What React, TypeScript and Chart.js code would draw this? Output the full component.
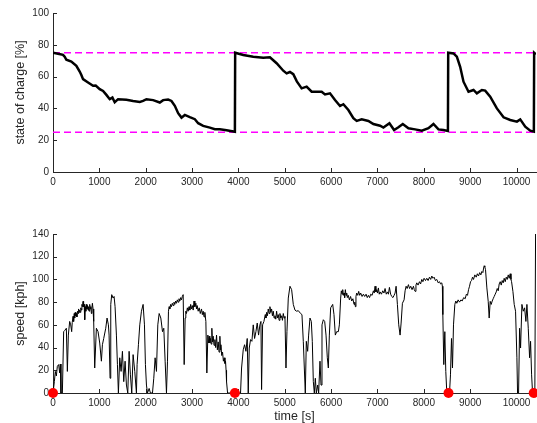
import { useEffect, useRef } from 'react';
import { Chart, registerables } from 'chart.js';

Chart.register(...registerables);

// ---------- data: state of charge ----------
const socTime = [0, 108, 216, 252, 288, 396, 504, 576, 612, 648, 756, 864, 922, 1008, 1080, 1152, 1224, 1282, 1332, 1404, 1584, 1728, 1872, 1944, 2016, 2160, 2304, 2376, 2484, 2556, 2628, 2700, 2772, 2844, 2952, 3060, 3132, 3240, 3384, 3492, 3600, 3744, 3924,
  3930, 4104, 4320, 4536, 4680, 4824, 4968, 5040, 5112, 5184, 5260, 5364, 5472, 5580, 5796, 5868, 5976, 6084, 6192, 6264, 6372, 6480, 6552, 6660, 6804, 6912, 7056, 7128, 7258, 7358, 7452, 7546, 7668, 7812, 7956, 8100, 8208, 8316, 8424, 8520,
  8526, 8640, 8712, 8784, 8856, 8964, 9072, 9144, 9252, 9324, 9432, 9576, 9720, 9864, 10008, 10080, 10188, 10296, 10374,
  10380, 10420];
const socValue = [75, 74.4, 73.7, 72.5, 70.6, 69.5, 66.8, 63.2, 61, 58.4, 56.3, 54.2, 54.4, 52.1, 51, 48.5, 45.8, 46.8, 43.9, 45.8, 45.4, 44.7, 44.1, 44.7, 45.8, 45.2, 43.7, 45.2, 45.6, 44.7, 41.6, 37, 34.2, 35.9, 34.5, 33.2, 30.7, 29, 27.9, 26.9, 26.9, 26.3, 25.3,
  75, 73.6, 72.5, 71.9, 72.1, 68.4, 63.7, 62, 62.9, 61.5, 57, 52.6, 53.7, 50.5, 50.5, 48.8, 49.5, 45.3, 41.5, 42.6, 39, 33.8, 32.1, 33.1, 32.1, 30.2, 29.1, 27.9, 30.6, 26.4, 28.1, 30.2, 27.5, 26.8, 26, 27.5, 30.2, 26.8, 26.4, 25.8,
  75, 74.6, 72.5, 66.2, 56.8, 50.5, 51.6, 49.5, 51.6, 51.2, 47.4, 40, 34.4, 32.7, 31.7, 33.1, 28.5, 26, 25.4,
  75, 74];
const socLimits = [25, 75];

// ---------- data: speed (split into segments) ----------
const speedTimeA = [0, 29, 50, 72, 94, 122, 144, 158, 172, 202, 230, 252, 288, 310, 331, 360, 382, 403, 415, 432, 445, 458, 468, 480, 492, 504, 516, 528, 540, 552, 564, 576, 588, 600, 612, 624, 636, 648, 660, 672, 684, 696, 708, 720, 732, 744, 756, 768, 780, 792, 804, 816, 828, 840, 850, 864, 878, 900, 936, 972];
const speedValueA = [0, 10, 19, 15, 23.5, 25, 17.6, 25.5, 0, 0, 54, 55, 57, 19, 51, 63, 60, 54, 62, 67.5, 63, 70, 66, 71, 68, 70, 67, 72, 70, 74, 71, 73, 71, 75, 73, 78, 76, 80.7, 76, 78, 64.5, 76, 72, 78, 74, 77, 73, 76, 72, 78, 74, 76, 70, 75, 79, 74, 63, 22, 57, 54];

const speedTimeB = [1008, 1044, 1066, 1094, 1138, 1166, 1195, 1210, 1231, 1246, 1267, 1296, 1318, 1339, 1368, 1390, 1411, 1440, 1469, 1498, 1526, 1555, 1584, 1613, 1642, 1670, 1699, 1728, 1764, 1800, 1814, 1843, 1872, 1908, 1944, 1973, 1994, 2016, 2038, 2074, 2102, 2146, 2174, 2203, 2232, 2261, 2290, 2326, 2362, 2390, 2419, 2448, 2470, 2491];
const speedValueB = [44, 28, 42.5, 48, 57, 66, 60, 51, 13, 78, 86.6, 83.6, 85, 76, 51, 25, 0, 31, 19, 36.7, 10, 28, 7, 0, 36.7, 16, 0, 33.8, 19, 0, 25, 42.5, 60, 72, 78, 60, 25, 7, 0, 4, 0, 0, 13, 31, 19, 60, 70, 66, 54, 57, 28, 0, 28, 72];

const speedTimeC = [2505, 2520, 2538, 2556, 2574, 2592, 2610, 2628, 2646, 2664, 2682, 2700, 2718, 2736, 2754, 2772, 2790, 2808, 2830, 2851, 2865, 2880, 2898, 2916, 2934, 2952, 2970, 2988, 3006, 3024, 3042, 3060, 3082, 3096, 3110, 3132, 3154, 3178, 3204, 3222, 3240, 3258, 3276, 3298, 3319, 3341, 3355, 3370, 3384, 3398, 3412, 3427, 3440, 3456, 3474, 3492, 3510, 3528, 3546, 3564, 3582, 3600, 3612, 3622, 3640, 3658, 3676, 3694, 3710, 3722, 3734, 3744, 3766];
const speedValueC = [76, 74, 78, 76, 79, 77, 80, 78, 81, 79, 82, 80, 83, 81, 84, 82, 85, 86.6, 25, 66, 72, 70, 75, 72, 76, 73, 78, 74, 77, 73, 81, 76, 79, 74, 77, 72, 75, 70, 74, 69, 72, 67, 71, 63, 17.6, 51, 44, 50, 44, 48, 43, 57, 45, 50, 42, 47, 40, 51, 38, 45, 36, 50, 38, 42.5, 33, 36, 28, 31, 26, 28, 20, 10, 0];

const speedTimeD = [4046, 4068, 4104, 4133, 4162, 4190, 4212, 4234, 4262, 4291, 4320, 4349, 4378, 4406, 4435, 4464, 4486, 4500, 4522, 4550, 4579, 4594, 4608, 4626, 4644, 4662, 4680, 4698, 4716, 4734, 4752, 4770, 4788, 4806, 4824, 4842, 4860, 4878, 4896, 4914, 4932, 4950, 4968, 4986, 5004, 5026, 5047, 5076, 5112, 5148, 5184];
const speedValueD = [0, 22, 38, 42.5, 36.7, 48, 0, 39.6, 47, 45.5, 60, 48, 54, 61.6, 51, 60, 63, 3, 60, 63, 69, 66, 71, 68, 74, 70, 76, 71, 74, 68, 72, 66, 68, 65, 72, 66, 69, 64, 70, 66, 68, 64, 70, 66, 67.5, 22, 54, 83.6, 94, 91, 78];

const speedTimeE = [5220, 5256, 5292, 5342, 5371, 5400, 5422, 5443, 5465, 5494, 5515, 5544, 5573, 5594, 5616, 5638, 5659, 5681, 5710, 5731, 5760, 5782, 5803, 5832, 5861, 5890, 5918, 5940, 5962, 5990, 6034, 6062, 6091, 6120, 6156, 6178];
const speedValueE = [73, 72, 72.5, 70, 69, 45.5, 22, 0, 45.5, 36.7, 51, 66, 63, 45.5, 10, 0, 13, 0, 7, 0, 28, 7, 60, 64.5, 63, 51, 31, 22, 51, 75, 78, 69, 51, 54, 54, 60];

const speedTimeF = [6206, 6220, 6235, 6250, 6264, 6278, 6292, 6307, 6322, 6336, 6350, 6370, 6394, 6420, 6444, 6470, 6494, 6510, 6523, 6536, 6552, 6574, 6595, 6616, 6638, 6668, 6696, 6724, 6754, 6780, 6804, 6830, 6854, 6884, 6912, 6930, 6948, 6966, 6984, 7000, 7020, 7038, 7056, 7085, 7114, 7140, 7164, 7190, 7214, 7236, 7258, 7284, 7308, 7334, 7358, 7380, 7402, 7430, 7459, 7488, 7510, 7538, 7574, 7596, 7618, 7640, 7668, 7692, 7718, 7746];
const speedValueF = [83.6, 90, 87, 91, 86, 88, 84, 91, 86, 88, 84, 86, 82, 85, 81, 83, 78, 80, 76, 85, 88, 86, 89.5, 86, 88, 85, 87, 85, 87, 84, 86, 84, 87, 86, 90, 88, 94, 89, 91, 88, 92.5, 87, 89, 87, 90, 88, 92, 87, 89, 87, 93, 87, 85, 84, 86, 88, 94, 78, 60, 51, 61.6, 79, 82, 90, 94, 92, 95.4, 92, 94, 91];

const speedTimeG = [7776, 7794, 7812, 7830, 7848, 7876, 7906, 7930, 7956, 7980, 8006, 8036, 8064, 8092, 8122, 8148, 8172, 8198, 8222, 8250, 8280, 8310, 8338, 8362, 8388, 8400, 8410, 8431, 8453, 8474, 8496, 8554];
const speedValueG = [94, 91, 89.5, 95, 97, 95, 98, 96, 100, 98, 101, 99, 101, 99, 102, 100, 103, 101, 102, 99, 100, 97, 98, 96, 97, 94, 69, 25, 54, 19, 0, 0];

const speedTimeH = [8575, 8597, 8618, 8640, 8669, 8690, 8712, 8740, 8770, 8800, 8827, 8860, 8892, 8918, 8942, 8965, 8986, 9008, 9029, 9050, 9072, 9100, 9130, 9155, 9180, 9205, 9230, 9252, 9274, 9290, 9302, 9316, 9331, 9360, 9389, 9410, 9432, 9454, 9475, 9496, 9518, 9540, 9562, 9584, 9605, 9626, 9648, 9670, 9691, 9712, 9734, 9756, 9778, 9800, 9821, 9842, 9864, 9880, 9893, 9922, 9950, 9979, 10008, 10022, 10044, 10066, 10087, 10116, 10145, 10174, 10202, 10224, 10253, 10282, 10303, 10325, 10346, 10395, 10411];
const speedValueH = [16, 48, 22, 60, 78, 81, 79, 82, 80, 82, 81, 84, 83, 87, 86, 91, 94, 98, 99, 102, 100, 104, 102, 105, 103, 106, 104, 107, 106, 110, 112, 111, 108.6, 92.5, 80.7, 66, 80.7, 78, 81, 83, 85, 87, 89, 92, 90, 96, 98, 95, 99, 97, 101, 98, 102, 100, 104, 101, 105, 100, 98, 89.5, 78, 72, 31, 0, 0, 57, 39.6, 78, 72, 75, 63, 78, 57, 31, 45.5, 16, 0, 0, 142];

const speedTime = [...speedTimeA, ...speedTimeB, ...speedTimeC, ...speedTimeD, ...speedTimeE, ...speedTimeF, ...speedTimeG, ...speedTimeH];
const speedValue = [...speedValueA, ...speedValueB, ...speedValueC, ...speedValueD, ...speedValueE, ...speedValueF, ...speedValueG, ...speedValueH];

const stopTimes = [0, 3924, 8532, 10370];
const stopSpeeds = [0, 0, 0, 0];

const xTickValues = [0, 1000, 2000, 3000, 4000, 5000, 6000, 7000, 8000, 9000, 10000];
const socTickValues = [0, 20, 40, 60, 80, 100];
const speedTickValues = [0, 20, 40, 60, 80, 100, 120, 140];
const xMax = 10420;

// ---------- helpers ----------
const FONT = "'Liberation Sans', Arial, sans-serif";
const AXIS = '#262626';

const toXY = (t: number[], v: number[]) => t.map((x, i) => ({ x, y: v[i] }));

const inwardTicks = {
  id: 'inwardTicks',
  beforeDatasetsDraw(chart: any) {
    const { ctx, chartArea, scales } = chart;
    ctx.save();
    ctx.strokeStyle = AXIS;
    ctx.lineWidth = 1;
    const xs = scales.x;
    const ys = scales.y;
    xs.ticks.forEach((t: any) => {
      const p = Math.round(xs.getPixelForValue(t.value)) + 0.5;
      ctx.beginPath();
      ctx.moveTo(p, chartArea.bottom);
      ctx.lineTo(p, chartArea.bottom - 4);
      ctx.stroke();
    });
    ys.ticks.forEach((t: any) => {
      const p = Math.round(ys.getPixelForValue(t.value)) + 0.5;
      ctx.beginPath();
      ctx.moveTo(chartArea.left, p);
      ctx.lineTo(chartArea.left + 4, p);
      ctx.stroke();
    });
    ctx.restore();
  },
};

function makeScales(yMax: number, yTickValues: number[], yTitle: string, xTitle: string | null, xHeight: number) {
  return {
    x: {
      type: 'linear',
      min: 0,
      max: xMax,
      grid: { display: false, drawTicks: false },
      border: { display: true, color: AXIS, width: 1 },
      ticks: {
        font: { family: FONT, size: 10 },
        color: AXIS,
        padding: 4,
        maxRotation: 0,
        autoSkip: false,
        callback: (v: any) => String(v),
      },
      afterBuildTicks: (s: any) => {
        s.ticks = xTickValues.map((v) => ({ value: v }));
      },
      afterFit: (s: any) => {
        s.height = xHeight;
        s.paddingLeft = 0;
        s.paddingRight = 0;
      },
      title: xTitle
        ? { display: true, text: xTitle, color: AXIS, font: { family: FONT, size: 12.5 }, padding: { top: 0, bottom: 0 } }
        : { display: false },
    },
    y: {
      type: 'linear',
      min: 0,
      max: yMax,
      grid: { display: false, drawTicks: false },
      border: { display: true, color: AXIS, width: 1 },
      ticks: {
        font: { family: FONT, size: 10 },
        color: AXIS,
        padding: 4,
        autoSkip: false,
        callback: (v: any) => String(v),
      },
      afterBuildTicks: (s: any) => {
        s.ticks = yTickValues.map((v) => ({ value: v }));
      },
      afterFit: (s: any) => {
        s.width = 53;
        s.paddingTop = 0;
        s.paddingBottom = 0;
      },
      title: { display: true, text: yTitle, color: AXIS, font: { family: FONT, size: 12.5 }, padding: { top: 13, bottom: 0 } },
    },
  };
}

export default function App() {
  const topRef = useRef<HTMLCanvasElement>(null);
  const botRef = useRef<HTMLCanvasElement>(null);

  useEffect(() => {
    const top = new Chart(topRef.current as HTMLCanvasElement, {
      type: 'line',
      data: {
        datasets: [
          {
            data: toXY(socTime, socValue),
            borderColor: '#000',
            borderWidth: 2.5,
            pointRadius: 0,
            tension: 0,
          },
          {
            data: [{ x: 0, y: socLimits[1] }, { x: xMax, y: socLimits[1] }],
            borderColor: '#ff00ff',
            borderDash: [7, 4],
            borderWidth: 1.5,
            pointRadius: 0,
          },
          {
            data: [{ x: 0, y: socLimits[0] }, { x: xMax, y: socLimits[0] }],
            borderColor: '#ff00ff',
            borderDash: [7, 4],
            borderWidth: 1.5,
            pointRadius: 0,
          },
        ],
      } as any,
      options: {
        responsive: false,
        animation: false,
        events: [],
        layout: { autoPadding: false, padding: { top: 13, right: 1, left: 0, bottom: 0 } },
        plugins: { legend: { display: false }, tooltip: { enabled: false } },
        scales: makeScales(100, socTickValues, 'state of charge [%]', null, 28) as any,
      },
      plugins: [inwardTicks],
    });

    const bot = new Chart(botRef.current as HTMLCanvasElement, {
      type: 'line',
      data: {
        datasets: [
          {
            data: toXY(stopTimes, stopSpeeds),
            showLine: false,
            pointRadius: 5,
            pointBackgroundColor: '#ff0000',
            pointBorderWidth: 0,
            pointBorderColor: '#ff0000',
            clip: false,
          },
          {
            data: toXY(speedTime, speedValue),
            borderColor: '#000',
            borderWidth: 1,
            pointRadius: 0,
            tension: 0,
          },
        ],
      } as any,
      options: {
        responsive: false,
        animation: false,
        events: [],
        layout: { autoPadding: false, padding: { top: 34, right: 1, left: 0, bottom: 0 } },
        plugins: { legend: { display: false }, tooltip: { enabled: false } },
        scales: makeScales(140, speedTickValues, 'speed [kph]', 'time [s]', 31) as any,
      },
      plugins: [inwardTicks],
    });

    return () => {
      top.destroy();
      bot.destroy();
    };
  }, []);

  return (
    <div style={{ position: 'absolute', left: 0, top: 0, width: 537, height: 423, overflow: 'hidden', background: '#fff' }}>
      <canvas ref={topRef} width={537} height={200} style={{ position: 'absolute', left: 0, top: 0, display: 'block' }} />
      <canvas ref={botRef} width={537} height={224} style={{ position: 'absolute', left: 0, top: 200, display: 'block' }} />
    </div>
  );
}
